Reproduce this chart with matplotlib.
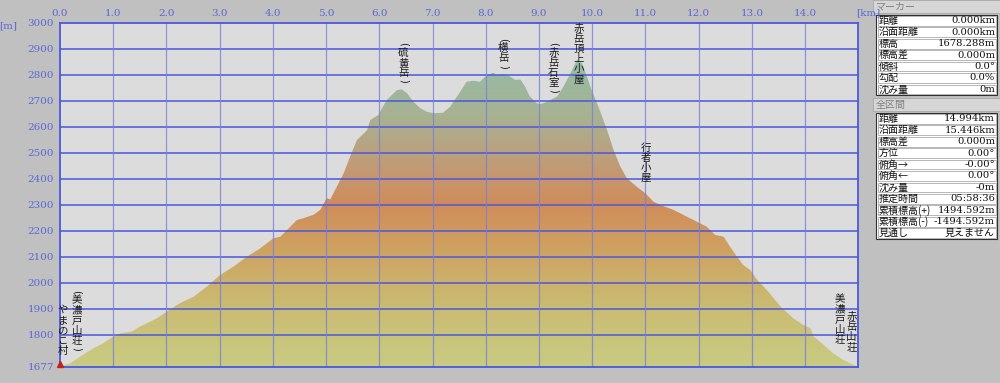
import matplotlib

matplotlib.use("Agg")

import matplotlib.pyplot as plt
import numpy as np
from matplotlib.colors import LinearSegmentedColormap
from matplotlib.patches import Polygon, Rectangle

plt.rcParams["font.family"] = ["Noto Sans CJK JP", "DejaVu Sans"]

# profile: distance [km], elevation [m]
dist_km = [0.00, 0.19, 0.38, 0.63, 0.81, 1.00, 1.13, 1.35, 1.50, 1.82, 2.01, 2.19,
           2.38, 2.51, 2.76, 3.01, 3.26, 3.51, 3.76, 4.01, 4.14, 4.45, 4.57, 4.76,
           4.89, 5.01, 5.08, 5.20, 5.33, 5.45, 5.58, 5.77, 5.83, 5.98, 6.14, 6.33,
           6.42, 6.52, 6.64, 6.77, 6.89, 7.02, 7.20, 7.33, 7.46, 7.58, 7.64, 7.77,
           7.89, 7.99, 8.14, 8.21, 8.33, 8.46, 8.55, 8.65, 8.74, 8.83, 8.96, 9.02,
           9.15, 9.34, 9.46, 9.59, 9.72, 9.81, 9.90, 9.99, 10.15, 10.28, 10.40,
           10.53, 10.65, 10.84, 11.00, 11.15, 11.28, 11.53, 11.78, 12.03, 12.15,
           12.31, 12.47, 12.59, 12.72, 12.84, 12.97, 13.10, 13.28, 13.41, 13.57,
           13.78, 13.97, 14.10, 14.16, 14.35, 14.53, 14.72, 14.91, 14.994]
elev_m = [1678, 1691, 1717, 1749, 1768, 1794, 1806, 1813, 1832, 1864, 1890, 1915,
          1935, 1947, 1986, 2031, 2063, 2101, 2133, 2172, 2178, 2242, 2249, 2262,
          2281, 2326, 2322, 2370, 2422, 2486, 2550, 2588, 2627, 2646, 2704, 2742,
          2745, 2730, 2697, 2672, 2659, 2653, 2655, 2678, 2717, 2755, 2774, 2778,
          2774, 2794, 2809, 2800, 2803, 2794, 2781, 2783, 2755, 2717, 2691, 2687,
          2697, 2717, 2755, 2806, 2860, 2845, 2794, 2742, 2660, 2588, 2512,
          2447, 2403, 2370, 2345, 2313, 2300, 2281, 2255, 2229, 2217,
          2185, 2178, 2140, 2101, 2069, 2050, 2012, 1973, 1941, 1903,
          1864, 1838, 1826, 1794, 1762, 1729, 1704, 1685, 1678]

x_ticks = [0.0, 1.0, 2.0, 3.0, 4.0, 5.0, 6.0, 7.0, 8.0, 9.0, 10.0, 11.0, 12.0, 13.0, 14.0]
y_grid = [1800, 1900, 2000, 2100, 2200, 2300, 2400, 2500, 2600, 2700, 2800, 2900]
y_labels = [1677, 1800, 1900, 2000, 2100, 2200, 2300, 2400, 2500, 2600, 2700, 2800, 2900, 3000]

# place names: text, distance [km], top of the text [m]
places = [
    ("やまのこ村", 0.05, 1915),
    ("(美濃戸山荘)", 0.32, 1978),
    ("(硫黄岳)", 6.45, 2930),
    ("(横岳)", 8.33, 2948),
    ("(赤岳石室)", 9.27, 2930),
    ("赤岳頂上小屋", 9.74, 2998),
    ("行者小屋", 11.00, 2540),
    ("美濃戸山荘", 14.66, 1956),
    ("赤岳山荘", 14.87, 1888),
]

marker_rows = [("距離", "0.000km"), ("沿面距離", "0.000km"), ("標高", "1678.288m"),
               ("標高差", "0.000m"), ("傾斜", "0.0°"), ("勾配", "0.0%"), ("沈み量", "0m")]
total_rows = [("距離", "14.994km"), ("沿面距離", "15.446km"), ("標高差", "0.000m"),
              ("方位", "0.00°"), ("俯角→", "-0.00°"), ("俯角←", "0.00°"),
              ("沈み量", "-0m"), ("推定時間", "05:58:36"), ("累積標高(+)", "1494.592m"),
              ("累積標高(-)", "-1494.592m"), ("見通し", "見えません")]

W, H = 1000, 383
fig = plt.figure(figsize=(W / 100, H / 100), dpi=100, facecolor="#c0c0c0")
x0, x1, y0, y1 = 60, 858, 23, 367
ax = fig.add_axes([x0 / W, 1 - y1 / H, (x1 - x0) / W, (y1 - y0) / H])
ax.set_facecolor("#dcdcdc")
xmax = dist_km[-1]
ax.set_xlim(0, xmax)
ax.set_ylim(1677, 3000)

# gradient fill under the profile
cmap = LinearSegmentedColormap.from_list(
    "prof",
    [(0.0, "#c8cc82"), (0.22, "#cbb970"), (0.40, "#cf9f60"), (0.53, "#d08c5a"),
     (0.66, "#c09c78"), (0.82, "#a8b292"), (1.0, "#92bca6")])
grad = np.linspace(0, 1, 256).reshape(-1, 1)
img = ax.imshow(grad, cmap=cmap, aspect="auto", origin="lower",
                extent=[0, xmax, 1677, 2860], zorder=1, interpolation="bilinear")
poly = Polygon(np.column_stack([[0] + dist_km + [xmax], [1677] + elev_m + [1677]]),
               closed=True, facecolor="none", edgecolor="none")
ax.add_patch(poly)
img.set_clip_path(poly)

for yv in y_grid:
    ax.axhline(yv, color="#4a58dc", lw=1.3, alpha=0.85, zorder=2)
for xv in x_ticks[1:]:
    ax.axvline(xv, color="#7880d8", lw=0.9, alpha=0.8, zorder=2)
for s in ax.spines.values():
    s.set_color("#4a58dc")
    s.set_linewidth(1.3)
ax.set_xticks([])
ax.set_yticks([])

lab_kw = dict(color="#5b68d6", fontsize=7.5, family=["DejaVu Serif"])
for xv in x_ticks:
    fig.text((x0 + xv / xmax * (x1 - x0)) / W, 1 - 13 / H, f"{xv:.1f}",
             ha="center", va="center", **lab_kw)
fig.text(868 / W, 1 - 13 / H, "[km]", ha="center", va="center", **lab_kw)
fig.text(8 / W, 1 - 26 / H, "[m]", ha="center", va="center", **lab_kw)
for yv in y_labels:
    fig.text(54 / W, 1 - (y0 + (3000 - yv) / 1323 * (y1 - y0)) / H, str(yv),
             ha="right", va="center", **lab_kw)

# vertical place names, one character per line, parentheses turned sideways
step = 7.3
pstep = 4.6
for name, km, top in places:
    off = 0.0
    for ch in name:
        if ch in "()":
            ax.annotate(ch, xy=(km, top), xytext=(0, -off - pstep / 2),
                        textcoords="offset points", ha="center", va="center",
                        rotation=-90, fontsize=7, family=["DejaVu Sans"],
                        color="#1a1a1a", zorder=5, annotation_clip=False)
            off += pstep
        else:
            ax.annotate(ch, xy=(km, top), xytext=(0, -off),
                        textcoords="offset points", ha="center", va="top",
                        fontsize=7.5, color="#1a1a1a", zorder=5,
                        annotation_clip=False)
            off += step

# start marker
ax.plot([0.0], [1690], marker="^", color="#c02020", markersize=5, zorder=6,
        clip_on=False)

# info panel on the right
pan = fig.add_axes([0, 0, 1, 1], facecolor="none")
pan.set_xlim(0, W)
pan.set_ylim(H, 0)
pan.axis("off")


def header(y, text):
    pan.add_patch(Rectangle((873, y), 127, 13, facecolor="#d6d6d6",
                            edgecolor="#a8a8a8", lw=0.6))
    pan.text(876, y + 6.8, text, ha="left", va="center", fontsize=7.2, color="#808080")


def box(y, rows):
    rh = 11.45
    pan.add_patch(Rectangle((876, y), 121, rh * len(rows), facecolor="white",
                            edgecolor="#303030", lw=0.8))
    for i, (k, v) in enumerate(rows):
        yy = y + i * rh
        pan.add_patch(Rectangle((877.5, yy + 0.8), 118, rh - 1.6, facecolor="white",
                                edgecolor="#9a9a9a", lw=0.5))
        pan.text(879, yy + rh / 2, k, ha="left", va="center", fontsize=7.2, color="#101010")
        pan.text(995, yy + rh / 2, v, ha="right", va="center", fontsize=7.2,
                 color="#101010", family=["DejaVu Serif", "Noto Sans CJK JP"])


header(0, "マーカー")
box(15, marker_rows)
header(98, "全区間")
box(113, total_rows)

fig.savefig("out.png", dpi=100, facecolor=fig.get_facecolor())
